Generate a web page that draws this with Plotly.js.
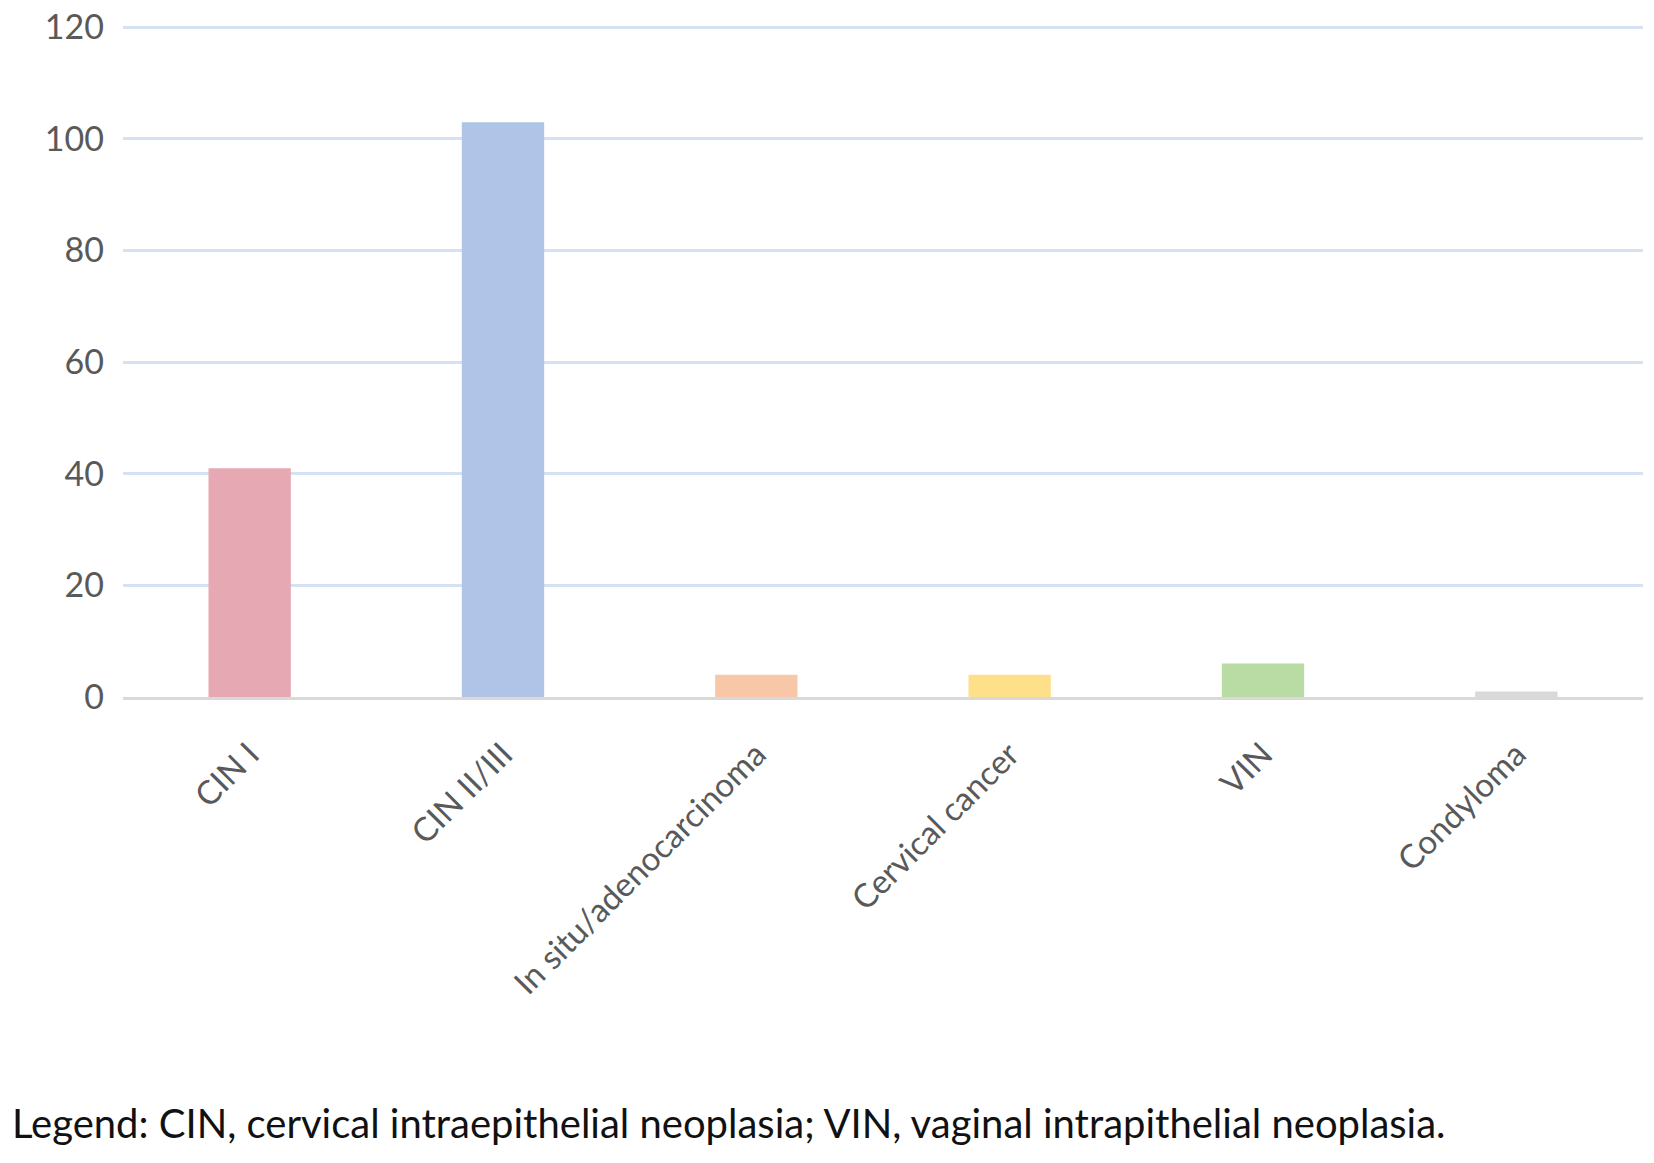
<!DOCTYPE html>
<html>
<head>
<meta charset="utf-8">
<script src="https://cdn.plot.ly/plotly-3.0.1.min.js"></script>
<style>
  html, body { margin: 0; padding: 0; background: #fff; }
  #plot { width: 1654px; height: 1163px; }
</style>
</head>
<body>
<div id="plot"></div>
<script>
const categories = ["CIN I", "CIN II/III", "In situ/adenocarcinoma", "Cervical cancer", "VIN", "Condyloma"];
const counts = [41, 103, 4, 4, 6, 1];
const barColors = ["#e6a9b4", "#b0c4e7", "#f8c7a7", "#fee08a", "#b8dca3", "#d9d9d9"];
const yTicks = [0, 20, 40, 60, 80, 100, 120];
const footnote = "Legend: CIN, cervical intraepithelial neoplasia; VIN, vaginal intrapithelial neoplasia.";

const bars = {
    type: "bar",
    x: categories,
    y: counts,
    marker: { color: barColors },
    hoverinfo: "x+y"
};

Plotly.newPlot("plot", [bars], {
    width: 1654,
    height: 1163,
    margin: { l: 123, r: 11, t: 24, b: 466 },
    paper_bgcolor: "#ffffff",
    plot_bgcolor: "#ffffff",
    bargap: 0.675,
    showlegend: false,
    font: { family: "Lato, 'Open Sans', sans-serif", color: "#595959", size: 34 },
    xaxis: {
        tickangle: -45,
        showgrid: false,
        showline: true,
        linecolor: "#d9d9d9",
        linewidth: 3,
        ticks: "",
        ticklabelstandoff: 22,
        tickfont: { size: 33, color: "#595959" }
    },
    yaxis: {
        range: [0, 120.6],
        tickvals: yTicks,
        showgrid: true,
        gridcolor: "#d6e2f1",
        gridwidth: 3,
        zeroline: false,
        showline: false,
        ticks: "",
        ticklabelstandoff: 18,
        tickfont: { size: 34, color: "#595959" }
    },
    annotations: [{
        text: footnote,
        xref: "paper",
        yref: "paper",
        x: -113 / 1520,
        y: 0,
        yshift: -426,
        xanchor: "left",
        yanchor: "middle",
        showarrow: false,
        font: { size: 40, color: "#111111", family: "Lato, 'Open Sans', sans-serif" }
    }]
}, { staticPlot: true });
</script>
</body>
</html>
